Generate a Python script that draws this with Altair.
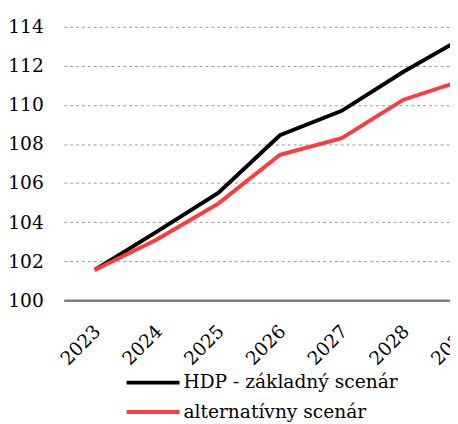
import altair as alt
import pandas as pd

years = [2023, 2024, 2025, 2026, 2027, 2028, 2029]
base = [101.55, 103.5, 105.5, 108.45, 109.7, 111.7, 113.5]
alt_s = [101.55, 103.1, 104.95, 107.45, 108.3, 110.27, 111.3]
names = ["HDP - základný scenár", "alternatívny scenár"]
colors = ["#000000", "#ff3b3b"]
y_ticks = [100, 102, 104, 106, 108, 110, 112, 114]

rows = []
for name, vals in zip(names, [base, alt_s]):
    for yr, v in zip(years, vals):
        rows.append({"year": yr, "value": v, "series": name})
df = pd.DataFrame(rows)

font = "DejaVu Serif"
fs = 19

chart = alt.Chart(df).mark_line(strokeWidth=4, clip=True).encode(
    x=alt.X("year:Q",
            scale=alt.Scale(domain=[2022.5, 2029.5], range=[0, 441], nice=False, zero=False),
            axis=alt.Axis(values=years, format="d", title=None, grid=False, ticks=False,
                          domainColor="#808080", domainWidth=2.5,
                          labelAngle=315, labelAlign="right", labelBaseline="top",
                          labelPadding=22, labelOffset=-4, labelFont=font, labelFontSize=fs,
                          labelColor="#000000", labelFlush=False, labelOverlap=False)),
    y=alt.Y("value:Q",
            scale=alt.Scale(domain=[100, 114], nice=False, zero=False),
            axis=alt.Axis(values=y_ticks, title=None, ticks=False, domain=False,
                          grid=True, gridDash=[3, 3], gridColor="#999999", gridWidth=1,
                          labelPadding=21, labelFont=font, labelFontSize=fs,
                          labelColor="#000000")),
    color=alt.Color("series:N",
                    scale=alt.Scale(domain=names, range=colors),
                    legend=alt.Legend(title=None, orient="none", legendX=79, legendY=351,
                                      symbolType="M-2.7,0H2.7", symbolSize=400,
                                      symbolStrokeWidth=4, labelFont=font,
                                      labelFontSize=fs, labelColor="#000000",
                                      labelOffset=19, rowPadding=8, padding=0,
                                      labelLimit=400)),
).properties(
    width=394, height=279,
    autosize=alt.AutoSizeParams(type="none"),
    padding={"left": 57, "top": 15, "right": 0, "bottom": 122},
).configure_view(stroke=None)

chart.save("out.html", embed_options={"renderer": "svg", "actions": False})
